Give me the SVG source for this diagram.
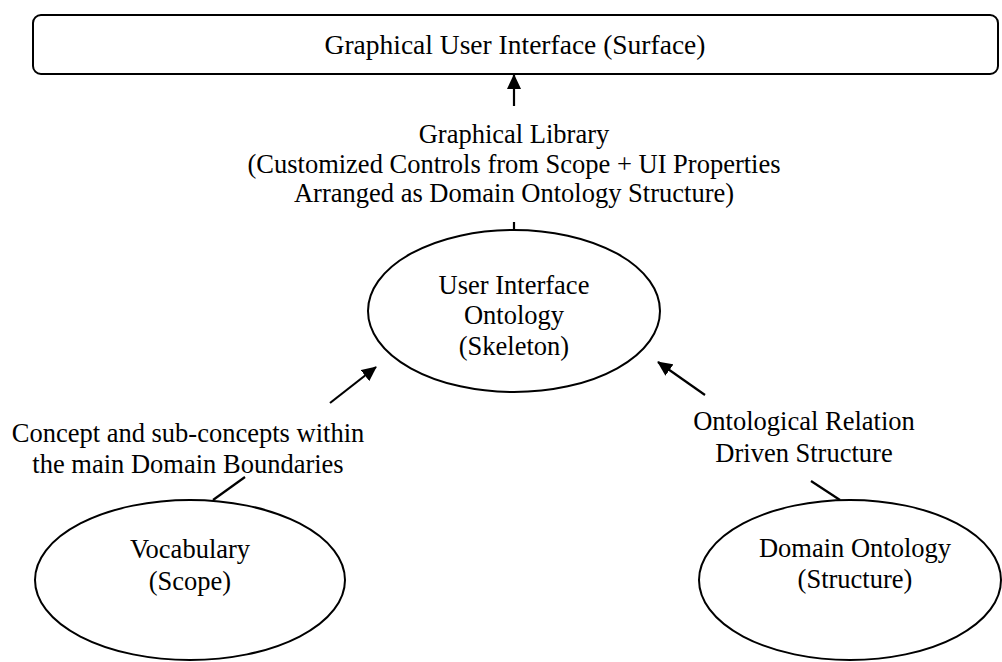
<svg xmlns="http://www.w3.org/2000/svg" width="1002" height="662" viewBox="0 0 1002 662">
  <style>
    .shape { fill: #ffffff; stroke: #000000; stroke-width: 2; }
    .edge { fill: none; stroke: #000000; stroke-width: 2.2; }
    text { font-family: "Liberation Serif", "Times New Roman", serif; font-size: 26.5px; fill: #000000; text-anchor: middle; }
    .title { font-size: 27.5px; }
  </style>
  <defs>
    <marker id="arrowhead" viewBox="0 0 15 14" refX="14" refY="7" markerWidth="15" markerHeight="14" markerUnits="userSpaceOnUse" orient="auto">
      <path d="M0,0 L15,7 L0,14 Z" fill="#000000"/>
    </marker>
  </defs>

  <rect width="1002" height="662" fill="#ffffff"/>

  <g id="gui-surface">
    <rect class="shape" x="33" y="15" width="965" height="59" rx="8" ry="8"/>
    <text class="title" x="515" y="54">Graphical User Interface (Surface)</text>
  </g>

  <g id="ui-ontology">
    <ellipse class="shape" cx="514" cy="311" rx="146" ry="81"/>
    <text x="514" y="294">User Interface</text>
    <text x="514" y="324">Ontology</text>
    <text x="514" y="355">(Skeleton)</text>
  </g>

  <g id="vocabulary">
    <ellipse class="shape" cx="190" cy="580" rx="155" ry="80"/>
    <text x="190" y="558">Vocabulary</text>
    <text x="190" y="590">(Scope)</text>
  </g>

  <g id="domain-ontology">
    <ellipse class="shape" cx="850" cy="580" rx="151" ry="80"/>
    <text x="855" y="557">Domain Ontology</text>
    <text x="855" y="588">(Structure)</text>
  </g>

  <g id="connectors">
    <!-- Skeleton to Surface -->
    <line class="edge" x1="514" y1="231" x2="514" y2="222"/>
    <line class="edge" x1="514" y1="106" x2="514" y2="75" marker-end="url(#arrowhead)"/>
    <text x="514" y="143">Graphical Library</text>
    <text x="514" y="173">(Customized Controls from Scope + UI Properties</text>
    <text x="514" y="202">Arranged as Domain Ontology Structure)</text>

    <!-- Scope to Skeleton -->
    <line class="edge" x1="213" y1="500" x2="245" y2="477"/>
    <line class="edge" x1="330" y1="403" x2="376" y2="367" marker-end="url(#arrowhead)"/>
    <text x="188" y="442">Concept and sub-concepts within</text>
    <text x="188" y="473">the main Domain Boundaries</text>

    <!-- Structure to Skeleton -->
    <line class="edge" x1="840" y1="500" x2="811" y2="481"/>
    <line class="edge" x1="705" y1="395" x2="658" y2="362" marker-end="url(#arrowhead)"/>
    <text x="804" y="430">Ontological Relation</text>
    <text x="804" y="462">Driven Structure</text>
  </g>
</svg>
